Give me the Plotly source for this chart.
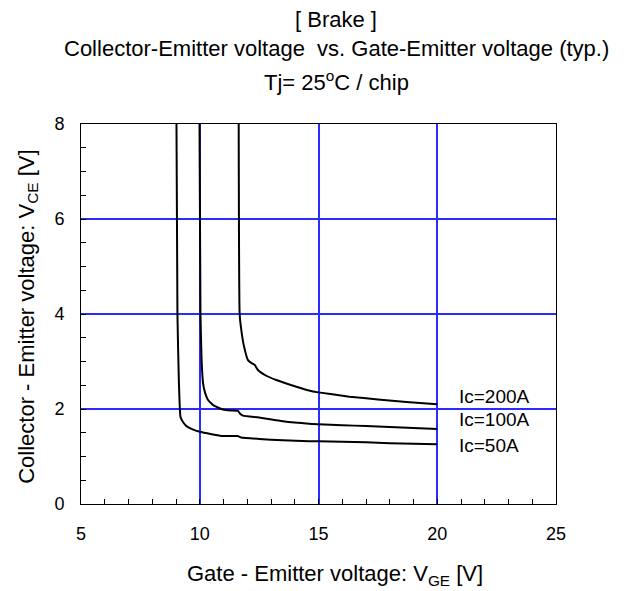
import plotly.graph_objects as go

# Ic = 50 A
vge_50 = [9.02, 9.06, 9.12, 9.19, 9.30, 9.44, 9.70, 10.0, 10.5, 10.97, 11.6, 11.75, 12.5, 13.5, 14.6, 15.0, 16.0, 17.0, 18.0, 19.0, 20.0]
vce_50 = [8.0, 4.0, 2.6, 1.83, 1.72, 1.64, 1.57, 1.52, 1.47, 1.43, 1.43, 1.40, 1.37, 1.34, 1.32, 1.32, 1.31, 1.30, 1.28, 1.27, 1.26]
# Ic = 100 A
vge_100 = [9.99, 10.03, 10.08, 10.14, 10.22, 10.35, 10.6, 10.98, 11.3, 11.61, 11.7, 11.82, 12.5, 13.5, 14.6, 15.0, 16.0, 17.0, 18.0, 19.0, 20.0]
vce_100 = [8.0, 4.0, 3.0, 2.54, 2.35, 2.19, 2.07, 1.99, 1.97, 1.96, 1.90, 1.86, 1.82, 1.74, 1.69, 1.68, 1.66, 1.64, 1.62, 1.60, 1.58]
# Ic = 200 A
vge_200 = [11.64, 11.68, 11.75, 11.85, 12.03, 12.2, 12.31, 12.45, 12.8, 13.22, 14.0, 14.6, 15.0, 16.3, 17.5, 18.7, 20.0]
vce_200 = [8.0, 4.0, 3.66, 3.35, 3.03, 2.96, 2.93, 2.82, 2.70, 2.61, 2.48, 2.39, 2.35, 2.26, 2.20, 2.15, 2.10]

labels = ["Ic=200A", "Ic=100A", "Ic=50A"]
label_y = [2.26, 1.77, 1.24]
label_x = 20.84

x_ticks = [5, 10, 15, 20, 25]
x_minor = [6, 7, 8, 9, 11, 12, 13, 14, 16, 17, 18, 19, 21, 22, 23, 24]
y_ticks = [0, 2, 4, 6, 8]
y_minor = [0.5, 1, 1.5, 2.5, 3, 3.5, 4.5, 5, 5.5, 6.5, 7, 7.5]

FONT = "Liberation Sans, Arial, sans-serif"
GRID = "#2b2bff"

fig = go.Figure()
for xs, ys in [(vge_50, vce_50), (vge_100, vce_100), (vge_200, vce_200)]:
    fig.add_trace(go.Scatter(x=xs, y=ys, mode="lines",
                             line=dict(color="black", width=2, shape="spline", smoothing=0.4),
                             showlegend=False, hoverinfo="skip"))

annotations = []
for t, yv in zip(labels, label_y):
    annotations.append(dict(x=label_x, y=yv, xref="x", yref="y", text=t, showarrow=False,
                            xanchor="left", yanchor="middle", font=dict(size=19, color="black")))

title_lines = [("[ Brake ]", 1.276), ("Collector-Emitter voltage  vs. Gate-Emitter voltage (typ.)", 1.200),
               ("Tj= 25<sup>o</sup>C / chip", 1.112)]
for t, yv in title_lines:
    annotations.append(dict(x=0.537, y=yv, xref="paper", yref="paper", text=t, showarrow=False,
                            xanchor="center", yanchor="middle", borderpad=0,
                            font=dict(size=22, color="black")))

annotations.append(dict(x=0.535, y=-0.187, xref="paper", yref="paper",
                        text="Gate - Emitter voltage: V<sub>GE</sub> [V]", showarrow=False,
                        xanchor="center", yanchor="middle", font=dict(size=22, color="black")))
annotations.append(dict(x=-0.112, y=0.492, xref="paper", yref="paper",
                        text="Collector - Emitter voltage: V<sub>CE</sub> [V]", showarrow=False,
                        textangle=-90, xanchor="center", yanchor="middle", font=dict(size=22, color="black")))

# page body has an 8px margin: shrink figure/margins so plot lands at the reference position
fig.update_layout(
    width=616, height=583,
    margin=dict(l=73, r=68, t=116, b=87),
    paper_bgcolor="white", plot_bgcolor="white",
    font=dict(family=FONT, color="black"),
    annotations=annotations,
)
fig.update_xaxes(range=[5, 25], tickmode="array", tickvals=x_ticks, ticks="inside", ticklen=5, tickcolor="black",
                 showgrid=True, gridcolor=GRID, gridwidth=1.5,
                 showline=True, linecolor="black", linewidth=1, mirror=True,
                 zeroline=False, tickfont=dict(size=18), ticklabelstandoff=13,
                 minor=dict(tickmode="array", tickvals=x_minor, ticks="inside", ticklen=5,
                            tickcolor="black", showgrid=False, gridcolor=GRID))
fig.update_yaxes(range=[0, 8], tickmode="array", tickvals=y_ticks, ticks="inside", ticklen=5, tickcolor="black",
                 showgrid=True, gridcolor=GRID, gridwidth=1.5,
                 showline=True, linecolor="black", linewidth=1, mirror=True,
                 zeroline=False, tickfont=dict(size=18), ticklabelstandoff=12,
                 minor=dict(tickmode="array", tickvals=y_minor, ticks="inside", ticklen=5,
                            tickcolor="black", showgrid=False, gridcolor=GRID))

fig.write_html("out.html")
